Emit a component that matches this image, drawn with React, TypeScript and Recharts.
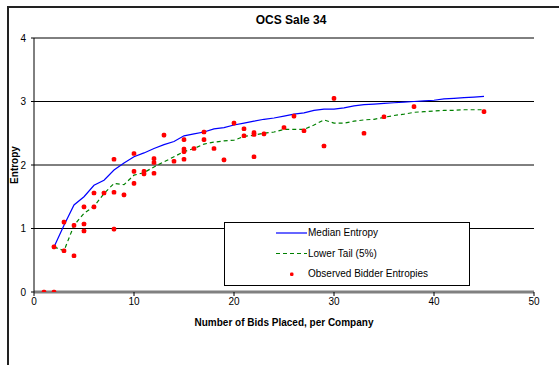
import React from 'react';
import { ComposedChart, Line, Scatter, XAxis, YAxis, CartesianGrid } from 'recharts';

const xTicks = [0, 10, 20, 30, 40, 50];
const yTicks = [0, 1, 2, 3, 4];

const curveX = [2, 3, 4, 5, 6, 7, 8, 9, 10, 11, 12, 13, 14, 15, 16, 17, 18, 19, 20, 21, 22, 23, 24, 25, 26, 27, 28, 29, 30, 31, 32, 33, 34, 35, 36, 37, 38, 39, 40, 41, 42, 43, 44, 45];
const medianEntropy = [0.71, 1.05, 1.37, 1.5, 1.68, 1.76, 1.92, 2.03, 2.13, 2.19, 2.26, 2.32, 2.37, 2.46, 2.49, 2.52, 2.57, 2.59, 2.63, 2.66, 2.69, 2.72, 2.74, 2.77, 2.8, 2.82, 2.86, 2.88, 2.88, 2.9, 2.93, 2.95, 2.96, 2.97, 2.98, 2.99, 3.0, 3.01, 3.02, 3.04, 3.05, 3.06, 3.07, 3.08];
const lowerTail = [0.71, 0.65, 1.05, 1.24, 1.35, 1.55, 1.71, 1.69, 1.84, 1.88, 1.97, 2.05, 2.13, 2.21, 2.26, 2.33, 2.36, 2.38, 2.39, 2.45, 2.47, 2.5, 2.52, 2.56, 2.56, 2.56, 2.63, 2.71, 2.66, 2.66, 2.69, 2.71, 2.72, 2.75, 2.78, 2.8, 2.83, 2.84, 2.85, 2.86, 2.86, 2.87, 2.87, 2.87];

const bidsX = [1, 2, 2, 3, 3, 4, 4, 5, 5, 5, 6, 6, 7, 8, 8, 8, 9, 10, 10, 10, 11, 11, 12, 12, 12, 13, 14, 15, 15, 15, 15, 16, 17, 17, 18, 19, 20, 21, 21, 22, 22, 22, 23, 25, 26, 27, 29, 30, 33, 35, 38, 45];
const bidsEntropy = [0, 0, 0.71, 1.1, 0.65, 1.05, 0.57, 1.07, 0.96, 1.34, 1.34, 1.56, 1.56, 1.57, 0.99, 2.09, 1.53, 1.71, 1.9, 2.18, 1.9, 1.86, 2.1, 2.04, 1.87, 2.47, 2.06, 2.4, 2.25, 2.21, 2.09, 2.26, 2.52, 2.4, 2.26, 2.08, 2.66, 2.57, 2.46, 2.51, 2.48, 2.13, 2.49, 2.59, 2.77, 2.54, 2.3, 3.05, 2.5, 2.76, 2.92, 2.84];

const medianData = curveX.map((x, i) => ({ x, y: medianEntropy[i] }));
const lowerData = curveX.map((x, i) => ({ x, y: lowerTail[i] }));
const scatterData = bidsX.map((x, i) => ({ x, y: bidsEntropy[i] }));

const FONT = '"Liberation Sans", Arial, sans-serif';

const Dot = (props: any) => {
  const { cx, cy } = props;
  if (cx == null || cy == null) return null;
  return <rect x={cx - 2.3} y={cy - 2.3} width={4.6} height={4.6} rx={1.6} fill="#ff0000" />;
};

export default function App() {
  return (
    <div style={{ position: 'absolute', left: 0, top: 0, width: 559, height: 365, overflow: 'hidden', background: '#fff', fontFamily: FONT }}>
      <div style={{ position: 'absolute', left: 7, top: 6, width: 700, height: 700, border: '2px solid #222', boxSizing: 'border-box' }} />
      <div style={{ position: 'absolute', left: 0, top: 0 }}>
        <ComposedChart width={559} height={365} margin={{ top: 38, right: 25, bottom: 43, left: 4 }}>
          <CartesianGrid horizontal vertical={false} stroke="#000" strokeWidth={1} />
          <XAxis
            dataKey="x"
            type="number"
            domain={[0, 50]}
            ticks={xTicks}
            height={30}
            axisLine={{ stroke: '#808080', strokeWidth: 3 }}
            tickLine={{ stroke: '#000' }}
            tickSize={4}
            tick={{ fontSize: 10, fill: '#000', fontFamily: FONT }}
            allowDataOverflow
          />
          <YAxis
            dataKey="y"
            type="number"
            domain={[0, 4]}
            ticks={yTicks}
            width={30}
            axisLine={{ stroke: '#000', strokeWidth: 1 }}
            tickLine={{ stroke: '#000' }}
            tickSize={3}
            tickMargin={5}
            tick={{ fontSize: 10, fill: '#000', fontFamily: FONT }}
            allowDataOverflow
          />
          <Line data={medianData} dataKey="y" type="linear" stroke="#0000ff" strokeWidth={1.2} dot={false} isAnimationActive={false} />
          <Line data={lowerData} dataKey="y" type="linear" stroke="#008000" strokeWidth={1.2} strokeDasharray="4 3" dot={false} isAnimationActive={false} />
          <Scatter data={scatterData} dataKey="y" fill="#ff0000" shape={<Dot />} isAnimationActive={false} />
        </ComposedChart>
      </div>
      <div style={{ position: 'absolute', left: 191, top: 12, width: 200, textAlign: 'center', fontSize: 12, fontWeight: 'bold', lineHeight: '16px' }}>OCS Sale 34</div>
      <div style={{ position: 'absolute', left: 134, top: 316, width: 300, textAlign: 'center', fontSize: 10, fontWeight: 'bold', lineHeight: '14px' }}>Number of Bids Placed, per Company</div>
      <div style={{ position: 'absolute', left: 15 - 40, top: 165 - 7, width: 80, textAlign: 'center', fontSize: 10, fontWeight: 'bold', lineHeight: '14px', transform: 'rotate(-90deg)' }}>Entropy</div>
      <div style={{ position: 'absolute', left: 224, top: 222, width: 246, height: 64, border: '1px solid #000', boxSizing: 'border-box', background: '#fff' }}>
        <svg width={244} height={62} style={{ position: 'absolute', left: 0, top: 0 }}>
          <line x1={51} y1={10} x2={82} y2={10} stroke="#0000ff" strokeWidth={1.2} />
          <line x1={51} y1={30.5} x2={82} y2={30.5} stroke="#008000" strokeWidth={1.2} strokeDasharray="4 3" />
          <rect x={65} y={49.5} width={3.5} height={3.5} rx={1.2} fill="#ff0000" />
        </svg>
        <div style={{ position: 'absolute', left: 83, top: 3, fontSize: 10, lineHeight: '14px', whiteSpace: 'nowrap' }}>Median Entropy</div>
        <div style={{ position: 'absolute', left: 83, top: 23.5, fontSize: 10, lineHeight: '14px', whiteSpace: 'nowrap' }}>Lower Tail (5%)</div>
        <div style={{ position: 'absolute', left: 83, top: 44, fontSize: 10, lineHeight: '14px', whiteSpace: 'nowrap' }}>Observed Bidder Entropies</div>
      </div>
    </div>
  );
}
